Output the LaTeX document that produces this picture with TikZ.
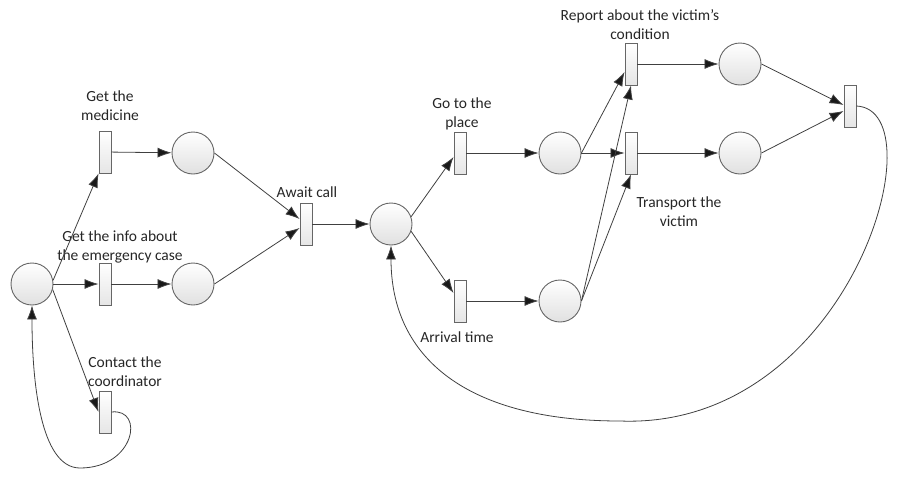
\documentclass[tikz,border=0pt]{standalone}
\usepackage{fontspec}
\setmainfont{Carlito}
\usetikzlibrary{arrows.meta}

\begin{document}
\begin{tikzpicture}[x=1pt,y=-1pt,
    place/.style={circle,draw=black!60,line width=0.9pt,top color=white,bottom color=black!12,minimum size=42pt,inner sep=0pt},
    trans/.style={rectangle,draw=black!60,line width=0.9pt,top color=white,bottom color=black!10,minimum width=12pt,minimum height=42pt,inner sep=0pt},
    lbl/.style={font=\fontsize{15.5}{19}\selectfont,text=black!85,align=center,inner sep=0pt},
    arc/.style={draw=black!75,line width=0.8pt,-{Latex[length=14pt,width=10pt,fill=black!90]}}
  ]
  \useasboundingbox (0,0) rectangle (908,477);
  % places and transitions
  \node[place] (p0) at (32,284) {};
  \node[trans] (tmed) at (105,152) {};
  \node[trans] (tinfo) at (105,284) {};
  \node[trans] (tcoord) at (105,412) {};
  \node[place] (pmed) at (193,153) {};
  \node[place] (pinfo) at (193,284) {};
  \node[trans] (tawait) at (306,224) {};
  \node[place] (pcall) at (391,224) {};
  \node[trans] (tgo) at (460,153) {};
  \node[trans] (tarr) at (460,301) {};
  \node[place] (pgo) at (560,153) {};
  \node[place] (parr) at (560,301) {};
  \node[trans] (trep) at (631,64) {};
  \node[trans] (ttra) at (631,153) {};
  \node[place] (prep) at (740,64) {};
  \node[place] (ptra) at (740,153) {};
  \node[trans] (tend) at (850,106) {};
  % labels
  \node[lbl] (lmed) at (110,106) {Get the\\medicine};
  \node[lbl] (linfo) at (120,247) {Get the info about\\the emergency case};
  \node[lbl] (lcoord) at (125,372) {Contact the\\coordinator};
  \node[lbl] (lawait) at (307,192) {Await call};
  \node[lbl] (lgo) at (462,114) {Go to the\\place};
  \node[lbl] (larr) at (457,337) {Arrival time};
  \node[lbl] (lrep) at (640,25) {Report about the victim’s\\condition};
  \node[lbl] (ltra) at (679,212) {Transport the\\victim};
  % arcs
  \draw[arc] (p0.10) -- (tmed.south west);
  \draw[arc] (p0.east) -- (tinfo);
  \draw[arc] (p0.-15) -- (tcoord.west);
  \draw[arc] (tmed) -- (pmed);
  \draw[arc] (tinfo) -- (pinfo);
  \draw[arc] (pmed.east) -- ([yshift=5pt]tawait.west);
  \draw[arc] (pinfo.east) -- ([yshift=-4pt]tawait.west);
  \draw[arc] (tawait) -- (pcall);
  \draw[arc] (pcall.20) -- ([yshift=-4pt]tgo.west);
  \draw[arc] (pcall.-20) -- ([yshift=8pt]tarr.west);
  \draw[arc] (tgo) -- (pgo);
  \draw[arc] (tarr) -- (parr);
  \draw[arc] (pgo.east) -- ([yshift=-8pt]trep.west);
  \draw[arc] (pgo) -- (ttra);
  \draw[arc] (parr.east) -- (trep.south);
  \draw[arc] (parr.east) -- (ttra.south);
  \draw[arc] (trep) -- (prep);
  \draw[arc] (ttra) -- (ptra);
  \draw[arc] (prep.east) -- ([yshift=1pt]tend.west);
  \draw[arc] (ptra.east) -- ([yshift=-5pt]tend.west);
  \draw[arc] (tend.east) .. controls (940,110) and (850,430) .. (620,421)
    .. controls (470,421) and (391,360) .. (pcall.south);
  \draw[arc] (tcoord.east) .. controls (145,408) and (135,468) .. (80,468)
    .. controls (40,468) and (32,380) .. (p0.south);
\end{tikzpicture}
\end{document}
